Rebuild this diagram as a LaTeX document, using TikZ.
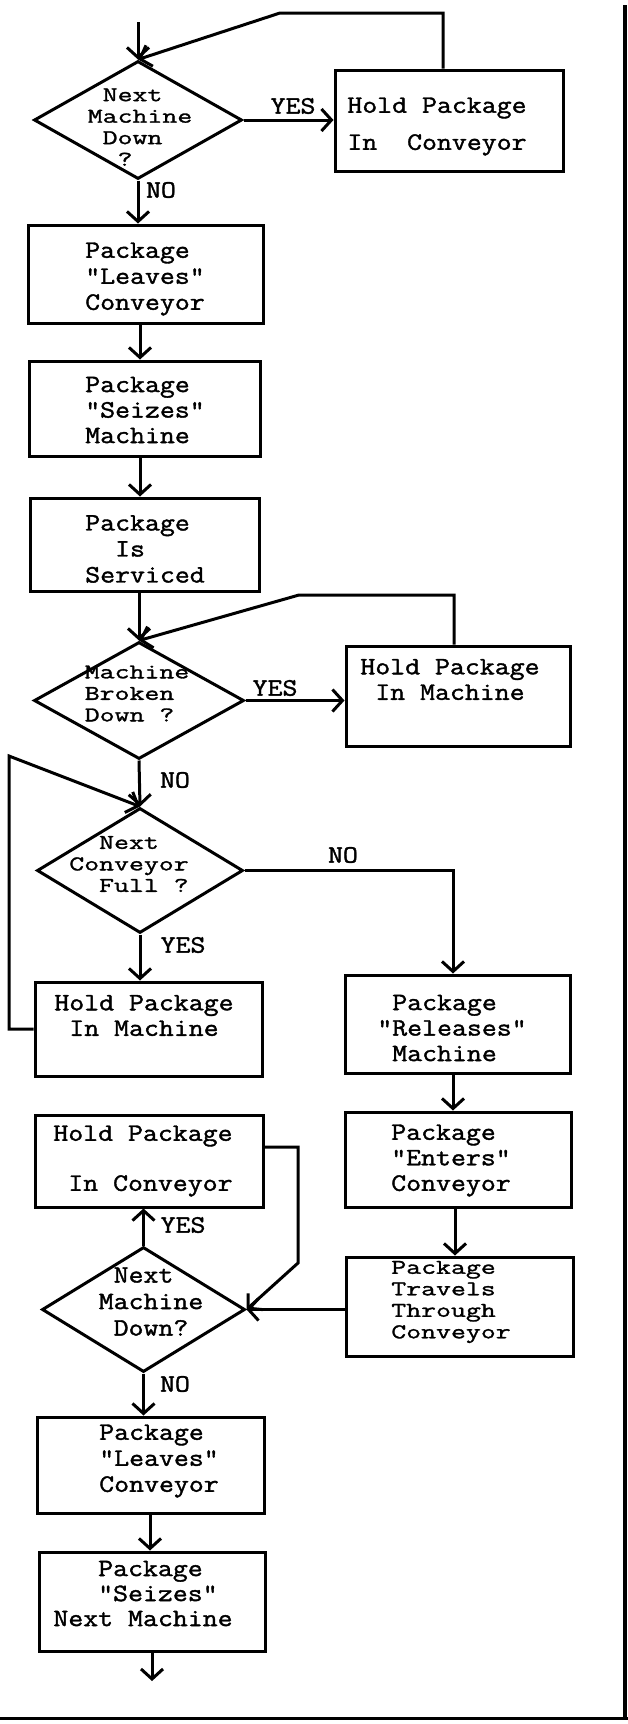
\documentclass[tikz,border=0pt]{standalone}
\usepackage{fontspec}
\newfontfamily\tw{Latin Modern Mono}[FakeBold=1.5,FakeStretch=1.16]
\newfontfamily\twc{Latin Modern Mono}[FakeBold=1.4,FakeStretch=1.38]
\usetikzlibrary{arrows.meta,shapes.geometric}
\tikzset{
 box/.style={draw, line width=3pt, rectangle, inner sep=0pt},
 dia/.style={draw, line width=3pt, diamond, inner sep=0pt},
 txt/.style={inner sep=0pt, align=left, font={\tw\fontsize{25}{#1}\selectfont\lineskiplimit=-100pt\lineskip=0pt}},
 txt/.default=26,
 txtc/.style={inner sep=0pt, align=left, font={\twc\fontsize{21}{21.5}\selectfont\lineskiplimit=-100pt\lineskip=0pt}},
 lbl/.style={inner sep=0pt, font={\tw\fontsize{25}{25}\selectfont}},
 arr/.style={line width=3pt, -{Straight Barb[length=10pt,width=22pt]}},
}
\begin{document}
\begin{tikzpicture}[x=1pt,y=-1pt]
\useasboundingbox[fill=white] (0,0) rectangle (628,1724);
% shapes
\node[dia,minimum width=208pt,minimum height=118pt] (d1) at (138,120) {};
\node[box,minimum width=228pt,minimum height=101pt] (b1) at (449,120.5) {};
\node[box,minimum width=235pt,minimum height=98pt] (b2) at (145.5,274) {};
\node[box,minimum width=231pt,minimum height=95pt] (b3) at (144.5,408.5) {};
\node[box,minimum width=229pt,minimum height=93pt] (b4) at (144.5,544.5) {};
\node[dia,minimum width=210pt,minimum height=117pt] (d2) at (139,700.5) {};
\node[box,minimum width=224pt,minimum height=100pt] (b5) at (458,696) {};
\node[dia,minimum width=206pt,minimum height=125pt] (d3) at (140,870.5) {};
\node[box,minimum width=227pt,minimum height=94pt] (b6) at (148.5,1029) {};
\node[box,minimum width=225pt,minimum height=98pt] (b7) at (457.5,1024) {};
\node[box,minimum width=228pt,minimum height=92pt] (b8) at (149,1161) {};
\node[box,minimum width=226pt,minimum height=95pt] (b9) at (458,1159.5) {};
\node[box,minimum width=227pt,minimum height=99pt] (b10) at (459.5,1306.5) {};
\node[dia,minimum width=203pt,minimum height=125pt] (d4) at (143.5,1309.5) {};
\node[box,minimum width=227pt,minimum height=96pt] (b11) at (150.5,1465) {};
\node[box,minimum width=226pt,minimum height=99pt] (b12) at (152,1601.5) {};
% texts
\node[txtc] (t1) at (140,127) {\phantom{x}Next\\Machine\\\phantom{x}Down\\\phantom{xx}?};
\node[txt=37] (t2) at (437,126.5) {Hold Package\\In\phantom{xx}Conveyor};
\node[txt=26] (t3) at (145,279) {Package\\"Leaves"\\Conveyor};
\node[txt=25.5] (t4) at (145,410) {Package\\"Seizes"\\Machine};
\node[txt=26] (t5) at (145,549) {Package\\\phantom{xx}Is\\Serviced};
\node[txtc] (t6) at (137,693.5) {Machine\\Broken\\Down\phantom{x}?};
\node[txt=25.5] (t7) at (450,679.5) {Hold Package\\\phantom{x}In Machine};
\node[txtc] (t8) at (129,864) {\phantom{xx}Next\\Conveyor\\\phantom{xx}Full ?};
\node[txt=25.5] (t9) at (144,1015.5) {Hold Package\\\phantom{x}In Machine};
\node[txt=25.5] (t10) at (452,1028) {\phantom{x}Package\\"Releases"\\\phantom{x}Machine};
\node[txt=50] (t11) at (143,1161) {Hold Package\\\phantom{x}In Conveyor};
\node[txt=25.5] (t12) at (451,1160.5) {Package\\"Enters"\\Conveyor};
\node[txtc] (t13) at (451,1302) {Package\\Travels\\Through\\Conveyor};
\node[txt=26.5] (t14) at (151,1301.5) {\phantom{x}Next\\Machine\\\phantom{x}Down?};
\node[txt=26] (t15) at (159,1461) {Package\\"Leaves"\\Conveyor};
\node[txt=25] (t16) at (143,1593.5) {\phantom{xxx}Package\\\phantom{xxx}"Seizes"\\Next Machine};
% labels
\node[lbl] (yes1) at (293,106) {YES};
\node[lbl] (no1) at (161,190) {NO};
\node[lbl] (yes2) at (275,688) {YES};
\node[lbl] (no2) at (175,780) {NO};
\node[lbl] (no3) at (343,855) {NO};
\node[lbl] (yes3) at (183,945) {YES};
\node[lbl] (yes4) at (183,1225) {YES};
\node[lbl] (no4) at (175,1384) {NO};
% connectors
\coordinate (in) at (138,22);
\draw[arr] (in) -- (d1.north);
\draw[arr] (d1.east) -- (d1.east -| b1.west);
\coordinate (c1) at (443,13); \coordinate (c2) at (280,13);
\draw[arr] (b1.north -| c1) -- (c1) -- (c2) -- (d1.north);
\coordinate (col) at (140,0);
\draw[arr] (d1.south) -- (d1.south |- b2.north);
\draw[arr] (b2.south -| col) -- (b3.north -| col);
\draw[arr] (b3.south -| col) -- (b4.north -| col);
\draw[arr] (b4.south -| d2.north) -- (d2.north);
\draw[arr] (d2.east) -- (d2.east -| b5.west);
\coordinate (c3) at (454,595); \coordinate (c4) at (299,595);
\draw[arr] (b5.north -| c3) -- (c3) -- (c4) -- (d2.north);
\draw[arr] (d2.south) -- (d3.north);
\coordinate (c5) at (9,756);
\draw[arr] (b6.west) -| (c5) -- (d3.north);
\draw[arr] (d3.south) -- (d3.south |- b6.north);
\coordinate (c6) at (453,0);
\draw[arr] (d3.east) -| (b7.north -| c6);
\draw[arr] (b7.south -| c6) -- (b9.north -| c6);
\coordinate (c7) at (455,0);
\draw[arr] (b9.south -| c7) -- (b10.north -| c7);
\draw[arr] (b10.west |- d4.east) -- (d4.east);
\coordinate (c8) at (298,1147); \coordinate (c9) at (298,1263);
\draw[arr] (b8.east |- c8) -- (c8) -- (c9) -- (d4.east);
\draw[arr] (d4.north) -- (d4.north |- b8.south);
\draw[arr] (d4.south) -- (d4.south |- b11.north);
\coordinate (c10) at (150,0);
\draw[arr] (b11.south -| c10) -- (b12.north -| c10);
\coordinate (out) at (152,1681);
\draw[arr] (b12.south -| out) -- (out);
% page frame lines
\draw[line width=3.5pt] (625,5) -- (625,1718);
\draw[line width=3pt] (0,1718) -- (628,1718);
\end{tikzpicture}
\end{document}
